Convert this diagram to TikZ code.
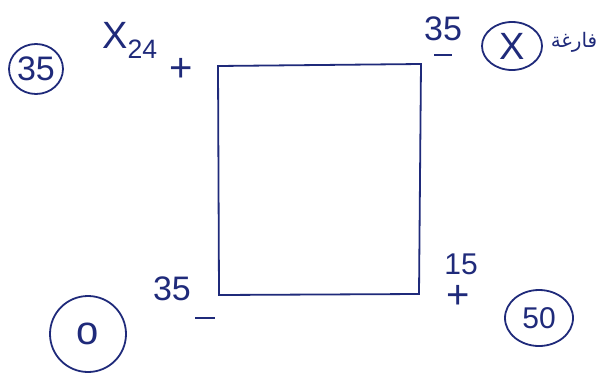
\documentclass[tikz,border=0pt]{standalone}
\usepackage{fontspec}
\usetikzlibrary{shapes.geometric}
\setmainfont{Liberation Sans}
\newfontfamily\arabicfont[Script=Arabic]{DejaVu Sans}
\TeXXeTstate=1
\definecolor{ink}{HTML}{1F2A7A}
\begin{document}
\begin{tikzpicture}[x=1pt,y=-1pt,
  ink/.style={draw=ink,line width=1.8pt,line cap=round},
  lbl/.style={text=ink,inner sep=0pt,font=\fontsize{34}{36}\selectfont},
  circ/.style={ellipse,draw=ink,line width=1.8pt,text=ink,inner sep=0pt}]
\useasboundingbox (0,0) rectangle (607,383);
% rectangle corners
\coordinate (tl) at (218,66);
\coordinate (tr) at (421,64);
\coordinate (bl) at (219,295);
\coordinate (br) at (419,294);
\draw[ink] (tl) -- (tr) -- (br) -- (bl) -- cycle;
% circles
\node[circ,minimum width=54pt,minimum height=50pt,font=\fontsize{34}{36}\selectfont] (c35) at (36,69) {35};
\node[circ,minimum width=60pt,minimum height=48pt,font=\fontsize{38}{40}\selectfont] (cx) at (512,46) {X};
\node[circ,minimum width=76pt,minimum height=76pt,font=\fontsize{40}{42}\selectfont] (c0) at (88,334) {o};
\node[circ,minimum width=68pt,minimum height=56pt,font=\fontsize{30}{32}\selectfont] (c50) at (539,318) {50};
% labels
\node[lbl,font=\fontsize{38}{40}\selectfont] (x24) at (130,40) {X\textsubscript{24}};
\node[lbl,font=\fontsize{40}{42}\selectfont] (p1) at (181,70) {+};
\node[lbl] (t35) at (443,29) {35};
\node[lbl] (m1) at (443,55) {\color{ink}\rule{18pt}{1.8pt}};
\node[lbl] (b35) at (172,289) {35};
\node[lbl] (m2) at (205,318) {\color{ink}\rule{20pt}{1.8pt}};
\node[lbl,font=\fontsize{30}{32}\selectfont] (t15) at (461,264) {15};
\node[lbl,font=\fontsize{40}{42}\selectfont] (p2) at (458,297) {+};
\node[lbl,font=\arabicfont\fontsize{20}{22}\selectfont] (ar) at (574,42) {\beginR فارغة\endR};
\end{tikzpicture}
\end{document}
